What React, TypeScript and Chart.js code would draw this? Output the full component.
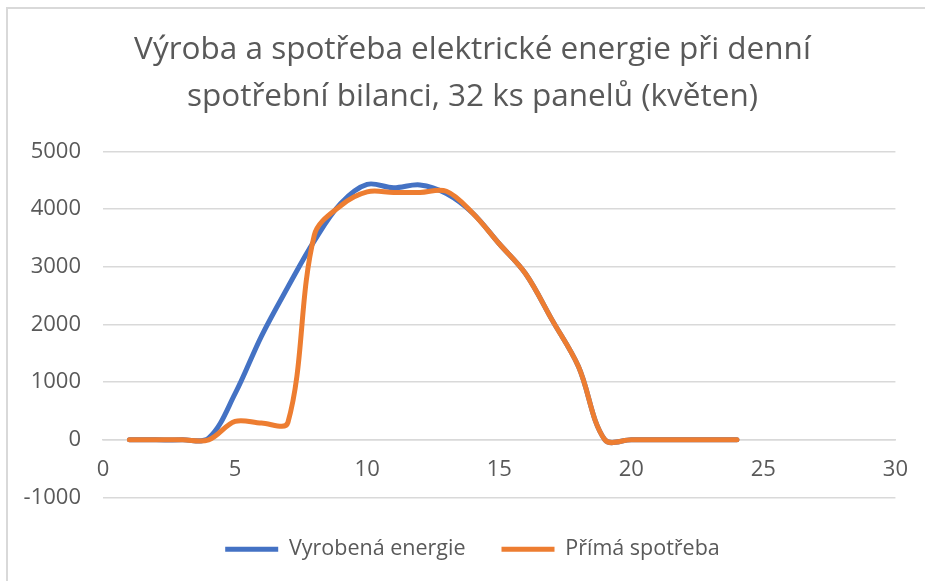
import React, { useEffect, useRef } from "react";
import { Chart, registerables } from "chart.js";

Chart.register(...registerables);

const hours = [1, 2, 3, 4, 5, 6, 7, 8, 9, 10, 11, 12, 13, 14, 15, 16, 17, 18, 19, 20, 21, 22, 23, 24];
const vyrobenaEnergie = [0, 0, 0, 30, 800, 1800, 2650, 3450, 4100, 4430, 4370, 4420, 4270, 3930, 3400, 2880, 2080, 1270, 0, 0, 0, 0, 0, 0];
const primaSpotreba = [0, 0, 0, 0, 320, 290, 300, 3550, 4060, 4300, 4290, 4290, 4310, 3930, 3400, 2880, 2080, 1270, 0, 0, 0, 0, 0, 0];
const titleLines = ["Výroba a spotřeba elektrické energie při denní", "spotřební bilanci, 32 ks panelů (květen)"];
const seriesNames = ["Vyrobená energie", "Přímá spotřeba"];
const xMin = 0, xMax = 30, xStep = 5;
const yMin = -1000, yMax = 5000, yStep = 1000;

const FONT = "'Open Sans', Lato, sans-serif";
const TEXT = "#595959";
const GRID = "#d9d9d9";

export default function App() {
  const ref = useRef<HTMLCanvasElement | null>(null);
  useEffect(() => {
    if (!ref.current) return;
    const chart = new Chart(ref.current, {
      type: "line",
      data: {
        datasets: [
          {
            label: seriesNames[0],
            data: hours.map((h, i) => ({ x: h, y: vyrobenaEnergie[i] })),
            borderColor: "#4472C4",
            backgroundColor: "#4472C4",
            borderWidth: 5,
            borderCapStyle: "round",
            pointRadius: 0,
            tension: 0.35,
            order: 2,
          },
          {
            label: seriesNames[1],
            data: hours.map((h, i) => ({ x: h, y: primaSpotreba[i] })),
            borderColor: "#ED7D31",
            backgroundColor: "#ED7D31",
            borderWidth: 5,
            borderCapStyle: "round",
            pointRadius: 0,
            tension: 0.35,
            order: 1,
          },
        ],
      },
      options: {
        responsive: false,
        animation: false,
        layout: { padding: { left: 20, right: 0, top: 0, bottom: 11 } },
        scales: {
          x: {
            type: "linear",
            min: xMin,
            max: xMax,
            position: { y: 0 } as any,
            ticks: { stepSize: xStep, color: TEXT, font: { family: FONT, size: 22 }, padding: 17 },
            grid: { display: false, drawTicks: false },
            border: { display: true, color: GRID, width: 1.5 },
          },
          y: {
            min: yMin,
            max: yMax,
            ticks: { stepSize: yStep, color: TEXT, font: { family: FONT, size: 22 }, padding: 22, callback: (v: any) => String(v) },
            grid: { color: GRID, lineWidth: 1.5, drawTicks: false },
            border: { display: false },
            afterFit: (s: any) => { s.width = 83; },
          },
          yRight: {
            position: "right",
            min: yMin,
            max: yMax,
            ticks: { display: false },
            grid: { display: false, drawTicks: false },
            border: { display: false },
            afterFit: (s: any) => { s.width = 27; },
          },
        },
        plugins: {
          title: {
            display: true,
            text: titleLines,
            color: TEXT,
            font: { family: FONT, size: 31.5, weight: "normal", lineHeight: 1.492 },
            padding: { top: 26.5, bottom: 31 },
          },
          legend: {
            position: "bottom",
            title: { display: true, text: "", font: { size: 1 }, padding: { top: 3.8, bottom: 0 } },
            labels: {
              usePointStyle: true,
              pointStyle: "line",
              pointStyleWidth: 53,
              color: TEXT,
              font: { family: FONT, size: 21.5 },
              padding: 36,
              sort: (a: any, b: any) => a.datasetIndex - b.datasetIndex,
            },
          },
          tooltip: { enabled: false },
        },
      },
    });
    return () => chart.destroy();
  }, []);
  return (
    <div style={{ position: "fixed", left: 0, top: 0, width: 925, height: 581, overflow: "hidden", background: "#fff" }}>
      <div style={{ position: "absolute", left: 6, top: 7, width: 1000, height: 700, borderLeft: `2px solid ${GRID}`, borderTop: `2px solid ${GRID}` }} />
      <canvas ref={ref} width={925} height={581} style={{ position: "absolute", left: 0, top: 0 }} />
    </div>
  );
}
